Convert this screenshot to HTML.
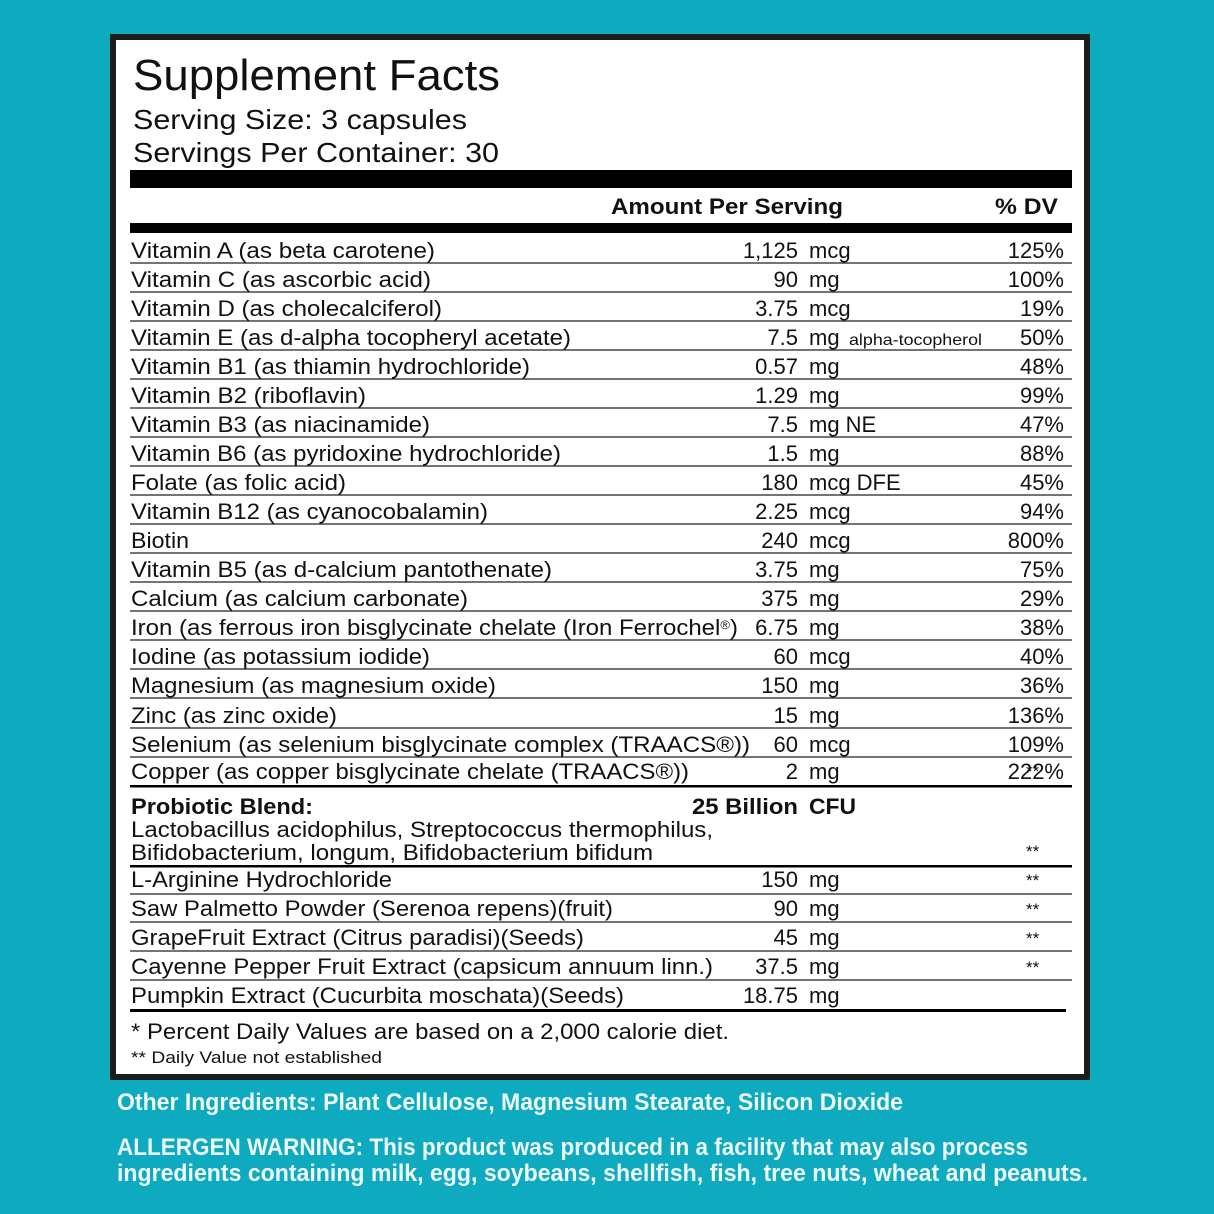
<!DOCTYPE html>
<html><head><meta charset="utf-8"><style>
html,body{margin:0;padding:0;background:#0eaabf;}
svg{display:block}
text{font-family:"Liberation Sans",sans-serif;fill:#111}
</style></head><body>
<svg width="1214" height="1214" viewBox="0 0 1214 1214" xmlns="http://www.w3.org/2000/svg">
<rect x="0" y="0" width="1214" height="1214" fill="#0eaabf"/>
<rect x="113" y="37" width="974" height="1040" fill="#fff" stroke="#1c1c1c" stroke-width="6"/>
<text x="133" y="90" font-size="44" textLength="367" lengthAdjust="spacingAndGlyphs">Supplement Facts</text>
<text x="133" y="129" font-size="28" textLength="334" lengthAdjust="spacingAndGlyphs">Serving Size: 3 capsules</text>
<text x="133" y="162" font-size="28" textLength="366" lengthAdjust="spacingAndGlyphs">Servings Per Container: 30</text>
<rect x="130" y="170" width="942" height="18" fill="#000"/>
<text x="611" y="214" font-size="22" font-weight="bold" textLength="232" lengthAdjust="spacingAndGlyphs">Amount Per Serving</text>
<text x="995" y="214" font-size="22" font-weight="bold" textLength="63" lengthAdjust="spacingAndGlyphs">% DV</text>
<rect x="130" y="223" width="942" height="10" fill="#000"/>
<g font-size="22">
<text x="131" y="258" textLength="304" lengthAdjust="spacingAndGlyphs">Vitamin A (as beta carotene)</text><text x="798" y="258" text-anchor="end">1,125</text><text x="809" y="258">mcg</text><text x="1064" y="258" text-anchor="end">125%</text>
<text x="131" y="287" textLength="300" lengthAdjust="spacingAndGlyphs">Vitamin C (as ascorbic acid)</text><text x="798" y="287" text-anchor="end">90</text><text x="809" y="287">mg</text><text x="1064" y="287" text-anchor="end">100%</text>
<text x="131" y="316" textLength="311" lengthAdjust="spacingAndGlyphs">Vitamin D (as cholecalciferol)</text><text x="798" y="316" text-anchor="end">3.75</text><text x="809" y="316">mcg</text><text x="1064" y="316" text-anchor="end">19%</text>
<text x="131" y="345" textLength="440" lengthAdjust="spacingAndGlyphs">Vitamin E (as d-alpha tocopheryl acetate)</text><text x="798" y="345" text-anchor="end">7.5</text><text x="809" y="345">mg</text><text x="849" y="345" font-size="16" textLength="133" lengthAdjust="spacingAndGlyphs">alpha-tocopherol</text><text x="1064" y="345" text-anchor="end">50%</text>
<text x="131" y="374" textLength="399" lengthAdjust="spacingAndGlyphs">Vitamin B1 (as thiamin hydrochloride)</text><text x="798" y="374" text-anchor="end">0.57</text><text x="809" y="374">mg</text><text x="1064" y="374" text-anchor="end">48%</text>
<text x="131" y="403" textLength="235" lengthAdjust="spacingAndGlyphs">Vitamin B2 (riboflavin)</text><text x="798" y="403" text-anchor="end">1.29</text><text x="809" y="403">mg</text><text x="1064" y="403" text-anchor="end">99%</text>
<text x="131" y="432" textLength="299" lengthAdjust="spacingAndGlyphs">Vitamin B3 (as niacinamide)</text><text x="798" y="432" text-anchor="end">7.5</text><text x="809" y="432">mg NE</text><text x="1064" y="432" text-anchor="end">47%</text>
<text x="131" y="461" textLength="430" lengthAdjust="spacingAndGlyphs">Vitamin B6 (as pyridoxine hydrochloride)</text><text x="798" y="461" text-anchor="end">1.5</text><text x="809" y="461">mg</text><text x="1064" y="461" text-anchor="end">88%</text>
<text x="131" y="490" textLength="215" lengthAdjust="spacingAndGlyphs">Folate (as folic acid)</text><text x="798" y="490" text-anchor="end">180</text><text x="809" y="490">mcg DFE</text><text x="1064" y="490" text-anchor="end">45%</text>
<text x="131" y="519" textLength="357" lengthAdjust="spacingAndGlyphs">Vitamin B12 (as cyanocobalamin)</text><text x="798" y="519" text-anchor="end">2.25</text><text x="809" y="519">mcg</text><text x="1064" y="519" text-anchor="end">94%</text>
<text x="131" y="548" textLength="58" lengthAdjust="spacingAndGlyphs">Biotin</text><text x="798" y="548" text-anchor="end">240</text><text x="809" y="548">mcg</text><text x="1064" y="548" text-anchor="end">800%</text>
<text x="131" y="577" textLength="421" lengthAdjust="spacingAndGlyphs">Vitamin B5 (as d-calcium pantothenate)</text><text x="798" y="577" text-anchor="end">3.75</text><text x="809" y="577">mg</text><text x="1064" y="577" text-anchor="end">75%</text>
<text x="131" y="606" textLength="337" lengthAdjust="spacingAndGlyphs">Calcium (as calcium carbonate)</text><text x="798" y="606" text-anchor="end">375</text><text x="809" y="606">mg</text><text x="1064" y="606" text-anchor="end">29%</text>
<text x="131" y="635" textLength="607" lengthAdjust="spacingAndGlyphs">Iron (as ferrous iron bisglycinate chelate (Iron Ferrochel<tspan font-size="12" dy="-6">®</tspan><tspan dy="6">)</tspan></text><text x="798" y="635" text-anchor="end">6.75</text><text x="809" y="635">mg</text><text x="1064" y="635" text-anchor="end">38%</text>
<text x="131" y="664" textLength="299" lengthAdjust="spacingAndGlyphs">Iodine (as potassium iodide)</text><text x="798" y="664" text-anchor="end">60</text><text x="809" y="664">mcg</text><text x="1064" y="664" text-anchor="end">40%</text>
<text x="131" y="693" textLength="365" lengthAdjust="spacingAndGlyphs">Magnesium (as magnesium oxide)</text><text x="798" y="693" text-anchor="end">150</text><text x="809" y="693">mg</text><text x="1064" y="693" text-anchor="end">36%</text>
<text x="131" y="723" textLength="206" lengthAdjust="spacingAndGlyphs">Zinc (as zinc oxide)</text><text x="798" y="723" text-anchor="end">15</text><text x="809" y="723">mg</text><text x="1064" y="723" text-anchor="end">136%</text>
<text x="131" y="752" textLength="619" lengthAdjust="spacingAndGlyphs">Selenium (as selenium bisglycinate complex (TRAACS®))</text><text x="798" y="752" text-anchor="end">60</text><text x="809" y="752">mcg</text><text x="1064" y="752" text-anchor="end">109%</text>
<text x="131" y="779" textLength="558" lengthAdjust="spacingAndGlyphs">Copper (as copper bisglycinate chelate (TRAACS®))</text><text x="798" y="779" text-anchor="end">2</text><text x="809" y="779">mg</text><text x="1064" y="779" text-anchor="end">222%</text><text x="1026" y="777" font-size="17">**</text>
<g stroke="#222" stroke-width="1.3">
<line x1="130" y1="263" x2="1072" y2="263"/><line x1="130" y1="292" x2="1072" y2="292"/><line x1="130" y1="321" x2="1072" y2="321"/><line x1="130" y1="350" x2="1072" y2="350"/><line x1="130" y1="379" x2="1072" y2="379"/><line x1="130" y1="408" x2="1072" y2="408"/><line x1="130" y1="437" x2="1072" y2="437"/><line x1="130" y1="466" x2="1072" y2="466"/><line x1="130" y1="495" x2="1072" y2="495"/><line x1="130" y1="524" x2="1072" y2="524"/><line x1="130" y1="553" x2="1072" y2="553"/><line x1="130" y1="582" x2="1072" y2="582"/><line x1="130" y1="611" x2="1072" y2="611"/><line x1="130" y1="640" x2="1072" y2="640"/><line x1="130" y1="669" x2="1072" y2="669"/><line x1="130" y1="698" x2="1072" y2="698"/><line x1="130" y1="728" x2="1072" y2="728"/><line x1="130" y1="757" x2="1072" y2="757"/>
<line x1="130" y1="894" x2="1072" y2="894"/><line x1="130" y1="922" x2="1072" y2="922"/><line x1="130" y1="951" x2="1072" y2="951"/><line x1="130" y1="980" x2="1072" y2="980"/>
</g>
<rect x="130" y="785" width="942" height="2.5" fill="#000"/>
<text x="131" y="814" font-weight="bold" textLength="182" lengthAdjust="spacingAndGlyphs">Probiotic Blend:</text>
<text x="798" y="814" font-weight="bold" text-anchor="end" textLength="106" lengthAdjust="spacingAndGlyphs">25 Billion</text><text x="809" y="814" font-weight="bold" textLength="47" lengthAdjust="spacingAndGlyphs">CFU</text>
<text x="131" y="837" textLength="582" lengthAdjust="spacingAndGlyphs">Lactobacillus acidophilus, Streptococcus thermophilus,</text>
<text x="131" y="860" textLength="522" lengthAdjust="spacingAndGlyphs">Bifidobacterium, longum, Bifidobacterium bifidum</text>
<text x="1026" y="857" font-size="17">**</text>
<rect x="130" y="865" width="942" height="2.5" fill="#000"/>
<text x="131" y="887" textLength="261" lengthAdjust="spacingAndGlyphs">L-Arginine Hydrochloride</text><text x="798" y="887" text-anchor="end">150</text><text x="809" y="887">mg</text><text x="1026" y="886" font-size="17">**</text>
<text x="131" y="916" textLength="482" lengthAdjust="spacingAndGlyphs">Saw Palmetto Powder (Serenoa repens)(fruit)</text><text x="798" y="916" text-anchor="end">90</text><text x="809" y="916">mg</text><text x="1026" y="915" font-size="17">**</text>
<text x="131" y="945" textLength="453" lengthAdjust="spacingAndGlyphs">GrapeFruit Extract (Citrus paradisi)(Seeds)</text><text x="798" y="945" text-anchor="end">45</text><text x="809" y="945">mg</text><text x="1026" y="944" font-size="17">**</text>
<text x="131" y="974" textLength="582" lengthAdjust="spacingAndGlyphs">Cayenne Pepper Fruit Extract (capsicum annuum linn.)</text><text x="798" y="974" text-anchor="end">37.5</text><text x="809" y="974">mg</text><text x="1026" y="973" font-size="17">**</text>
<text x="131" y="1003" textLength="493" lengthAdjust="spacingAndGlyphs">Pumpkin Extract (Cucurbita moschata)(Seeds)</text><text x="798" y="1003" text-anchor="end">18.75</text><text x="809" y="1003">mg</text>
<rect x="130" y="1009" width="936" height="3" fill="#000"/>
<text x="131" y="1039" textLength="598" lengthAdjust="spacingAndGlyphs">* Percent Daily Values are based on a 2,000 calorie diet.</text>
<text x="131" y="1063" font-size="17" textLength="251" lengthAdjust="spacingAndGlyphs">** Daily Value not established</text>
</g>
<g font-weight="bold" font-size="24">
<text x="117" y="1110" style="fill:#eef9fb" textLength="786" lengthAdjust="spacingAndGlyphs">Other Ingredients: Plant Cellulose, Magnesium Stearate, Silicon Dioxide</text>
<text x="117" y="1155" style="fill:#eef9fb" textLength="911" lengthAdjust="spacingAndGlyphs">ALLERGEN WARNING: This product was produced in a facility that may also process</text>
<text x="117" y="1181" style="fill:#eef9fb" textLength="971" lengthAdjust="spacingAndGlyphs">ingredients containing milk, egg, soybeans, shellfish, fish, tree nuts, wheat and peanuts.</text>
</g>
</svg>
</body></html>
